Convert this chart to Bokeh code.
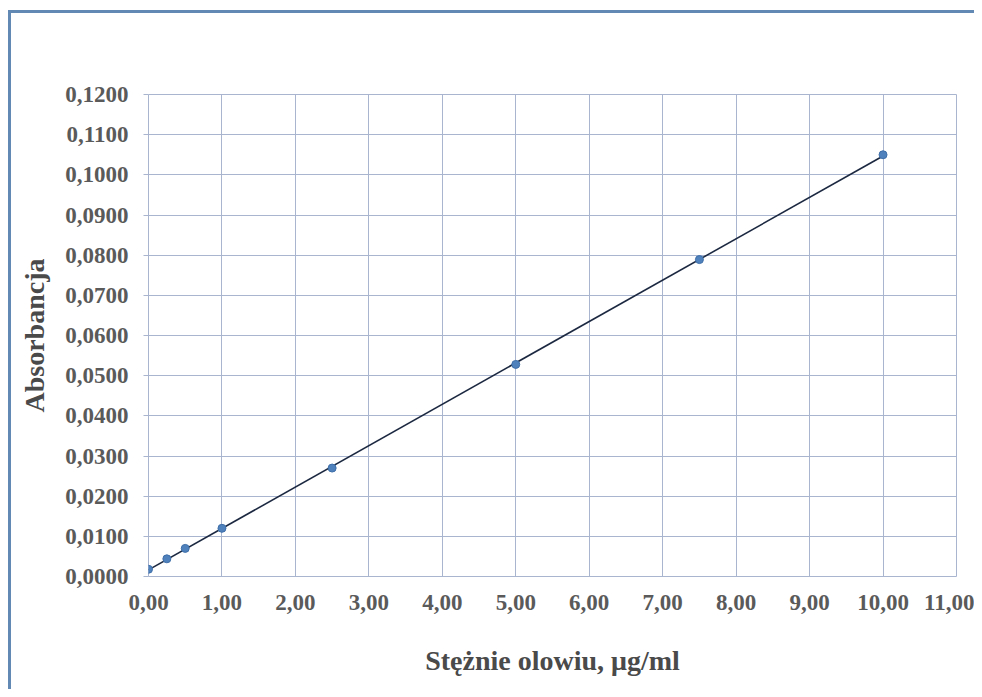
import numpy as np
from bokeh.plotting import figure
from bokeh.models import FixedTicker, Range1d
from bokeh.embed import file_html
from bokeh.resources import INLINE

# Data
concentration = [0.0, 0.25, 0.5, 1.0, 2.5, 5.0, 7.5, 10.0]
absorbance = [0.0018, 0.0044, 0.0070, 0.0120, 0.0270, 0.0528, 0.0789, 0.1050]

x_ticks = [0, 1, 2, 3, 4, 5, 6, 7, 8, 9, 10, 11]
x_tick_labels = ["0,00", "1,00", "2,00", "3,00", "4,00", "5,00", "6,00",
                 "7,00", "8,00", "9,00", "10,00", "11,00"]
y_ticks = [0.00, 0.01, 0.02, 0.03, 0.04, 0.05, 0.06, 0.07, 0.08, 0.09, 0.10, 0.11, 0.12]
y_tick_labels = ["0,0000", "0,0100", "0,0200", "0,0300", "0,0400", "0,0500", "0,0600",
                 "0,0700", "0,0800", "0,0900", "0,1000", "0,1100", "0,1200"]

x_title = "Stężnie olowiu, μg/ml"
y_title = "Absorbancja"

FONT = "Liberation Serif"
GRID = "#A9B4CF"
FRAME = "#6189B3"

p = figure(width=974, height=689, output_backend="svg", toolbar_location=None,
           x_range=Range1d(0, 11), y_range=Range1d(0, 0.12),
           min_border_left=148, min_border_right=18,
           min_border_top=94, min_border_bottom=113)

p.background_fill_color = "white"
p.border_fill_color = None
p.outline_line_color = GRID
p.styles = {
    "background-color": "white",
    "background-image": f"linear-gradient({FRAME},{FRAME}), linear-gradient({FRAME},{FRAME})",
    "background-size": "3px 100%, 100% 3px",
    "background-position": "8px 10px, 8px 10px",
    "background-repeat": "no-repeat",
}

# grid
p.xgrid.ticker = FixedTicker(ticks=x_ticks)
p.ygrid.ticker = FixedTicker(ticks=y_ticks)
for g in (p.xgrid, p.ygrid):
    g.grid_line_color = GRID
    g.grid_line_width = 1

# axes
p.xaxis.ticker = FixedTicker(ticks=x_ticks)
p.yaxis.ticker = FixedTicker(ticks=y_ticks)
p.xaxis.major_label_overrides = {t: l for t, l in zip(x_ticks, x_tick_labels)}
p.yaxis.major_label_overrides = {t: l for t, l in zip(y_ticks, y_tick_labels)}

for ax in (p.xaxis, p.yaxis):
    ax.axis_line_color = None
    ax.minor_tick_line_color = None
    ax.major_tick_in = 0
    ax.major_label_text_font = FONT
    ax.major_label_text_font_style = "bold"
    ax.major_label_text_font_size = "23px"
    ax.major_label_text_color = "#5A5A5A"
    ax.axis_label_text_font = FONT
    ax.axis_label_text_font_style = "bold"
    ax.axis_label_text_font_size = "28px"
    ax.axis_label_text_color = "#4A4A4A"

p.xaxis.major_tick_out = 0
p.xaxis.major_tick_line_color = None
p.xaxis.major_label_standoff = 18
p.xaxis.axis_label = x_title
p.xaxis.axis_label_standoff = 32

p.yaxis.major_tick_out = 5
p.yaxis.major_tick_line_color = GRID
p.yaxis.major_label_standoff = 15
p.yaxis.axis_label = y_title
p.yaxis.axis_label_standoff = 12

# linear trend line
slope, intercept = np.polyfit(concentration, absorbance, 1)
x_fit = [min(concentration), max(concentration)]
y_fit = [slope * x + intercept for x in x_fit]
p.line(x_fit, y_fit, line_color="#1B2840", line_width=1.6)

# points
p.scatter(concentration, absorbance, size=8, fill_color="#4F81BD",
          line_color="#3F6FA8", line_width=1)

open("out.html", "w").write(file_html(p, INLINE))
